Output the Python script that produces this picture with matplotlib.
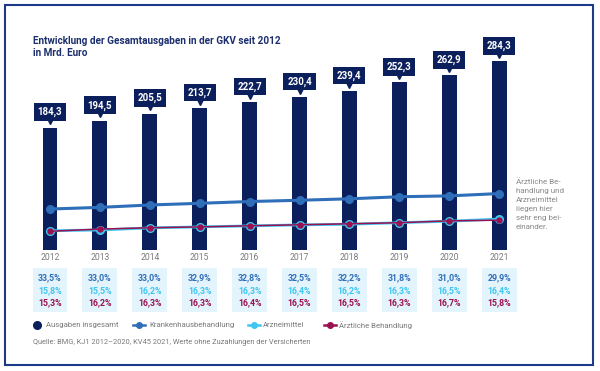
import numpy as np
import matplotlib.pyplot as plt
from matplotlib.patches import Rectangle
from matplotlib.lines import Line2D

plt.rcParams['font.family'] = ['Roboto', 'DejaVu Sans']

# Daten (Mrd. Euro bzw. Anteile in %)
years = ['2012', '2013', '2014', '2015', '2016', '2017', '2018', '2019', '2020', '2021']
total = [184.3, 194.5, 205.5, 213.7, 222.7, 230.4, 239.4, 252.3, 262.9, 284.3]
total_labels = ['184,3', '194,5', '205,5', '213,7', '222,7', '230,4', '239,4', '252,3', '262,9', '284,3']
krankenhaus = [61.7, 64.2, 67.8, 70.3, 73.0, 74.9, 77.1, 80.2, 81.5, 85.0]
arznei = [29.1, 30.1, 33.3, 34.8, 36.3, 37.8, 38.8, 41.1, 43.4, 46.6]
aerztlich = [28.2, 31.5, 33.5, 34.8, 36.5, 38.0, 39.5, 41.1, 43.9, 44.9]
share_kh = ['33,5%', '33,0%', '33,0%', '32,9%', '32,8%', '32,5%', '32,2%', '31,8%', '31,0%', '29,9%']
share_am = ['15,8%', '15,5%', '16,2%', '16,3%', '16,3%', '16,4%', '16,2%', '16,3%', '16,5%', '16,4%']
share_ae = ['15,3%', '16,2%', '16,3%', '16,3%', '16,4%', '16,5%', '16,5%', '16,3%', '16,7%', '15,8%']

navy = '#0b1f5c'
c_kh = '#2f6eb8'
c_am = '#3ec6f0'
c_ae = '#9a1050'
grey = '#7a7a7a'
W, H = 600, 371


def fx(x):
    return x / W


def fy(y):
    return 1 - y / H


fig = plt.figure(figsize=(6, 3.71), dpi=100)
ax = fig.add_axes([0, 0, 1, 1])
ax.axis('off')

# Pixel -> Datenkoordinaten
step = 49.9
x0 = 50
base = 250
scale = 0.664
ax.set_xlim(-x0 / step, (W - x0) / step)
ax.set_ylim((base - H) / scale, base / scale)

x = np.arange(len(years))

ax.bar(x, total, width=0.30, color=navy, zorder=2)

ax.plot(x, krankenhaus, color=c_kh, lw=2.2, marker='o', ms=5.5, zorder=3)
ax.plot(x, arznei, color=c_am, lw=2.0, marker='o', ms=5.5, zorder=3)
ax.plot(x, aerztlich, color=c_ae, lw=1.1, marker='o', ms=3.6, zorder=4)

# Wertelabels
for xi, v, lab in zip(x, total, total_labels):
    ax.plot(xi, v + 6.5 / scale, marker='v', ms=4.5, color=navy, zorder=3)
    ax.text(xi, v + 15.5 / scale, lab, ha='center', va='center', color='white',
            fontsize=7, fontweight='bold', zorder=4,
            bbox=dict(boxstyle='square,pad=0.38', fc=navy, ec='none'))

# Jahreszahlen und Anteile
for xi, yr, a, b, c in zip(x, years, share_kh, share_am, share_ae):
    ax.text(xi, (base - 258) / scale, yr, ha='center', va='center', color=grey, fontsize=6.2)
    ax.add_patch(Rectangle((xi - 0.35, (base - 312) / scale), 0.70, 44 / scale,
                           fc='#e3f4fd', ec='none', zorder=1))
    ax.text(xi, (base - 278) / scale, a, ha='center', va='center', color=c_kh,
            fontsize=6.3, fontweight='bold')
    ax.text(xi, (base - 290.5) / scale, b, ha='center', va='center', color=c_am,
            fontsize=6.3, fontweight='bold')
    ax.text(xi, (base - 303) / scale, c, ha='center', va='center', color=c_ae,
            fontsize=6.3, fontweight='bold')

# Titel
fig.text(fx(33), fy(36), 'Entwicklung der Gesamtausgaben in der GKV seit 2012\nin Mrd. Euro',
         ha='left', va='top', color='#1c2f6e', fontsize=7.2, fontweight='bold', linespacing=1.2)

# Anmerkung
fig.text(fx(516), fy(178), 'Ärztliche Be-\nhandlung und\nArzneimittel\nliegen hier\nsehr eng bei-\neinander.',
         ha='left', va='top', color='#8a8a8a', fontsize=5.8, linespacing=1.6)

# Legende
ly = fy(325)
fig.add_artist(Line2D([fx(37)], [ly], marker='o', ms=5.5, color=navy, transform=fig.transFigure))
fig.text(fx(46), ly, 'Ausgaben insgesamt', va='center', color=grey, fontsize=5.6)
leg = [(133, 149, c_kh, 'Krankenhausbehandlung'),
       (248, 263, c_am, 'Arzneimittel'),
       (324, 339, c_ae, 'Ärztliche Behandlung')]
for xs, xt, col, lab in leg:
    fig.add_artist(Line2D([fx(xs), fx(xs + 12)], [ly, ly], color=col, lw=1.8,
                          transform=fig.transFigure))
    fig.add_artist(Line2D([fx(xs + 6)], [ly], marker='o', ms=4, color=col,
                          transform=fig.transFigure))
    fig.text(fx(xt), ly, lab, va='center', color=grey, fontsize=5.6)

fig.text(fx(33), fy(342), 'Quelle: BMG, KJ1 2012\u20132020, KV45 2021, Werte ohne Zuzahlungen der Versicherten',
         va='center', color=grey, fontsize=5.3)

# Rahmen
fig.add_artist(Rectangle((fx(5), fy(365)), fx(588), 360 / H, transform=fig.transFigure,
                         fill=False, ec='#1d3a8a', lw=1.5))

plt.savefig('out.png', dpi=100)
